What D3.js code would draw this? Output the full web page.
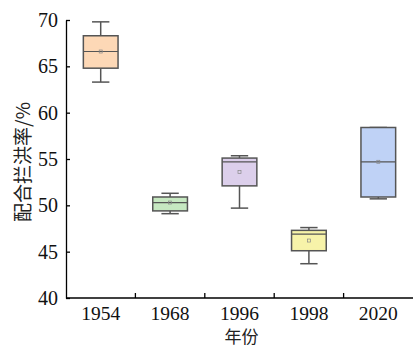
<!doctype html>
<html>
<head>
<meta charset="utf-8">
<script src="https://cdnjs.cloudflare.com/ajax/libs/d3/7.8.5/d3.min.js"></script>
<style>
body { margin: 0; background: #fff; }
svg { display: block; }
.tick text { font-family: "Liberation Serif", "Times New Roman", serif; }
</style>
</head>
<body>
<svg id="chart" width="413" height="349"></svg>
<script>
var years = ["1954", "1968", "1996", "1998", "2020"];
var lowWhisker = [63.3, 49.1, 49.7, 43.7, 50.7];
var q1 = [64.8, 49.4, 52.1, 45.1, 50.9];
var medians = [66.6, 50.3, 54.7, 46.9, 54.7];
var q3 = [68.3, 50.9, 55.1, 47.3, 58.4];
var highWhisker = [69.8, 51.3, 55.35, 47.6, 58.4];
var means = [66.6, 50.3, 53.6, 46.2, 54.7];
var fills = ["#fdd8b6", "#c6e8c1", "#dccfeb", "#f7f3a9", "#bfd2f6"];
var yTicks = [40, 45, 50, 55, 60, 65, 70];

var svg = d3.select("#chart");
var mLeft = 66, mRight = 413, mTop = 20, mBottom = 298;

var x = d3.scaleBand().domain(years).range([mLeft, mRight]).paddingInner(0).paddingOuter(0);
var y = d3.scaleLinear().domain([40, 70]).range([mBottom, mTop]);

var boxes = years.map(function (yr, i) {
  return { year: yr, lo: lowWhisker[i], q1: q1[i], med: medians[i], q3: q3[i], hi: highWhisker[i], mean: means[i], fill: fills[i] };
});

var bw = x.bandwidth() * 0.5;
var capW = bw * 0.5;

var g = svg.selectAll("g.box").data(boxes).enter().append("g").attr("class", "box")
  .attr("transform", function (d) { return "translate(" + (x(d.year) + x.bandwidth() / 2) + ",0)"; });

g.append("line").attr("x1", 0).attr("x2", 0)
  .attr("y1", function (d) { return y(d.hi); }).attr("y2", function (d) { return y(d.q3); })
  .attr("stroke", "#555").attr("stroke-width", 1.5);
g.append("line").attr("x1", 0).attr("x2", 0)
  .attr("y1", function (d) { return y(d.q1); }).attr("y2", function (d) { return y(d.lo); })
  .attr("stroke", "#555").attr("stroke-width", 1.5);
g.append("line").attr("x1", -capW / 2).attr("x2", capW / 2)
  .attr("y1", function (d) { return y(d.hi); }).attr("y2", function (d) { return y(d.hi); })
  .attr("stroke", "#555").attr("stroke-width", 1.5);
g.append("line").attr("x1", -capW / 2).attr("x2", capW / 2)
  .attr("y1", function (d) { return y(d.lo); }).attr("y2", function (d) { return y(d.lo); })
  .attr("stroke", "#555").attr("stroke-width", 1.5);

g.append("rect").attr("x", -bw / 2).attr("width", bw)
  .attr("y", function (d) { return y(d.q3); })
  .attr("height", function (d) { return y(d.q1) - y(d.q3); })
  .attr("fill", function (d) { return d.fill; })
  .attr("stroke", "#555").attr("stroke-width", 1.5);

g.append("line").attr("x1", -bw / 2).attr("x2", bw / 2)
  .attr("y1", function (d) { return y(d.med); }).attr("y2", function (d) { return y(d.med); })
  .attr("stroke", "#555").attr("stroke-width", 1.2);

g.append("rect").attr("x", -1.5).attr("width", 3).attr("height", 3)
  .attr("y", function (d) { return y(d.mean) - 1.5; })
  .attr("fill", "none").attr("stroke", "#888").attr("stroke-width", 0.7);

// y axis
var yAxis = d3.axisLeft(y).tickValues(yTicks).tickSizeInner(-4).tickSizeOuter(0).tickPadding(8);
var ya = svg.append("g").attr("transform", "translate(" + mLeft + ",0)").call(yAxis);
ya.select(".domain").attr("stroke", "#000").attr("stroke-width", 1.3);
ya.selectAll(".tick line").attr("stroke", "#000").attr("stroke-width", 1.3);
ya.selectAll(".tick text").attr("font-size", 20).attr("fill", "#111");

// x axis: ticks at band boundaries pointing inward
var xa = svg.append("g").attr("transform", "translate(0," + mBottom + ")");
xa.append("line").attr("x1", mLeft).attr("x2", mRight).attr("stroke", "#000").attr("stroke-width", 1.3);
xa.selectAll("line.bt").data(years.slice(1)).enter().append("line").attr("class", "bt")
  .attr("x1", function (d) { return x(d); }).attr("x2", function (d) { return x(d); })
  .attr("y1", 0).attr("y2", -5).attr("stroke", "#000").attr("stroke-width", 1.3);
xa.selectAll("text").data(years).enter().append("text")
  .attr("x", function (d) { return x(d) + x.bandwidth() / 2; })
  .attr("y", 22).attr("text-anchor", "middle")
  .attr("font-family", "Liberation Serif, serif").attr("font-size", 19.5).attr("fill", "#111")
  .text(function (d) { return d; });

svg.append("text").attr("x", (mLeft + mRight) / 2 + 2).attr("y", 343).attr("text-anchor", "middle")
  .attr("font-family", "Noto Sans CJK SC, sans-serif").attr("font-size", 17).attr("fill", "#222")
  .text("年份");

svg.append("text").attr("transform", "translate(30," + ((mTop + mBottom) / 2 + 3) + ") rotate(-90)")
  .attr("text-anchor", "middle")
  .attr("font-family", "Noto Sans CJK SC, sans-serif").attr("font-size", 19).attr("fill", "#222")
  .text("配合拦洪率/%");
</script>
</body>
</html>
